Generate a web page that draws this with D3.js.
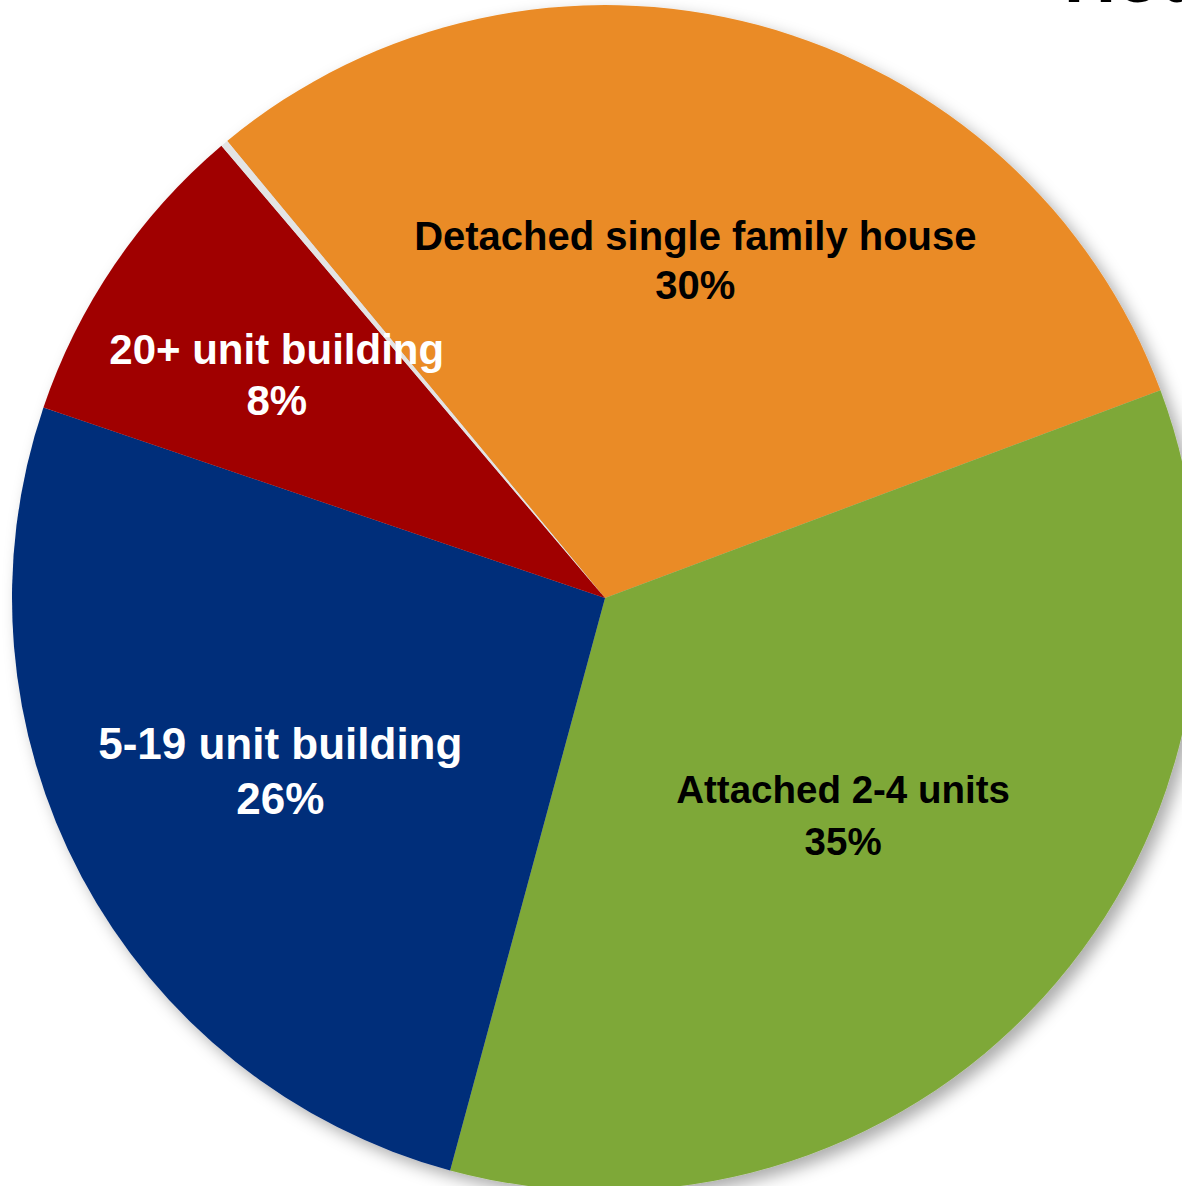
<!DOCTYPE html>
<html>
<head>
<meta charset="utf-8">
<script src="https://cdn.jsdelivr.net/npm/d3@7"></script>
<style>
  body { margin: 0; background: #fff; }
  svg { display: block; }
  text { font-family: "Liberation Sans", Arial, sans-serif; font-weight: bold; }
</style>
</head>
<body>
<script>
var width = 1182,
    height = 1186,
    cx = 605,
    cy = 598,
    radius = 593
;

// data
var categories = ["Detached single family house", "Attached 2-4 units", "5-19 unit building", "20+ unit building", "Other"];
var values = [30.3, 34.9, 26.0, 8.6, 0.2];
var pctLabels = ["30%", "35%", "26%", "8%", ""];

// styles
var colors = ["#ea8b26", "#7ea838", "#002d7a", "#a00000", "#e4e4e4"];
var textColors = ["#000", "#000", "#fff", "#fff", "none"];
var fontSizes = [40, 38.5, 44, 42, 0];
var labelRadius = [350, 322, 368, 397, 0];
var lineGap = [49, 52, 55, 51, 0];

var startAngle = 69.5 * Math.PI / 180 - values[0] / d3.sum(values) * 2 * Math.PI;

var svg = d3.select("body").append("svg")
    .attr("width", width)
    .attr("height", height)
;

var defs = svg.append("defs");
var filter = defs.append("filter")
    .attr("id", "shadow")
    .attr("x", "-10%").attr("y", "-10%")
    .attr("width", "120%").attr("height", "120%")
;
filter.append("feDropShadow")
    .attr("dx", 7)
    .attr("dy", 7)
    .attr("stdDeviation", 8)
    .attr("flood-color", "#000")
    .attr("flood-opacity", 0.33)
;

// title, mostly off the top of the picture
svg.append("text")
    .attr("x", 1064)
    .attr("y", 2)
    .attr("font-size", 72)
    .attr("fill", "#000")
    .text("Housing Type")
;

var pie = d3.pie()
    .sort(null)
    .startAngle(startAngle)
    .endAngle(startAngle + 2 * Math.PI)
;

var arcs = pie(values);

var arc = d3.arc()
    .innerRadius(0)
    .outerRadius(radius)
;

var g = svg.append("g")
    .attr("transform", `translate(${cx},${cy})`)
;

g.append("g")
    .attr("filter", "url(#shadow)")
    .selectAll("path")
    .data(arcs)
    .join("path")
    .attr("d", arc)
    .attr("fill", (d, i) => colors[i])
;

arcs.forEach(function (d, i) {
    if (!pctLabels[i]) return;
    var la = d3.arc().innerRadius(labelRadius[i]).outerRadius(labelRadius[i]);
    var c = la.centroid(d);
    var t = g.append("text")
        .attr("text-anchor", "middle")
        .attr("font-size", fontSizes[i])
        .attr("fill", textColors[i])
        .attr("transform", `translate(${c[0]},${c[1]})`)
    ;
    t.append("tspan")
        .attr("x", 0)
        .attr("y", -lineGap[i] / 2 + fontSizes[i] * 0.36)
        .text(categories[i]);
    t.append("tspan")
        .attr("x", 0)
        .attr("y", lineGap[i] / 2 + fontSizes[i] * 0.36)
        .text(pctLabels[i]);
});
</script>
</body>
</html>
